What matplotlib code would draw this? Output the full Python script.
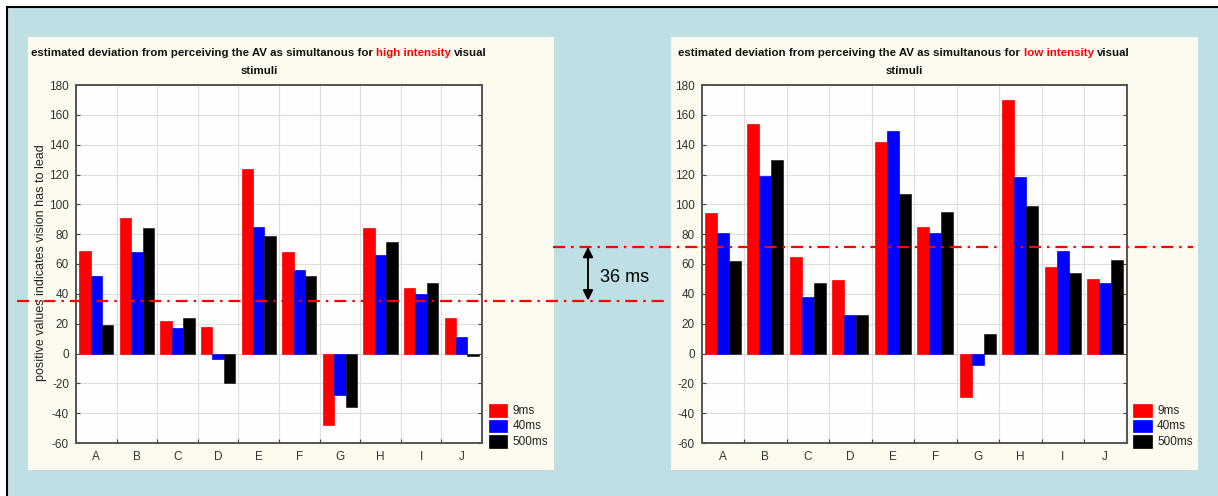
import numpy as np
import matplotlib
matplotlib.use("Agg")
import matplotlib.pyplot as plt
from matplotlib import font_manager as fm
from matplotlib.patches import Rectangle, FancyArrowPatch
from matplotlib.lines import Line2D
from matplotlib.transforms import blended_transform_factory

# ---- data -------------------------------------------------------------
categories = ["A", "B", "C", "D", "E", "F", "G", "H", "I", "J"]
series_names = ["9ms", "40ms", "500ms"]
series_colors = ["#ff0000", "#0000ff", "#000000"]

high_9ms = [69, 91, 22, 18, 124, 68, -48, 84, 44, 24]
high_40ms = [52, 68, 17, -4, 85, 56, -28, 66, 40, 11]
high_500ms = [19, 84, 24, -20, 79, 52, -36, 75, 47, -2]

low_9ms = [94, 154, 65, 49, 142, 85, -29, 170, 58, 50]
low_40ms = [81, 119, 38, 26, 149, 81, -8, 118, 69, 47]
low_500ms = [62, 130, 47, 26, 107, 95, 13, 99, 54, 63]

y_ticks = list(range(-60, 181, 20))
high_level = 35.5          # reference level, high intensity
gap_ms = 36                # shift between the two reference levels
low_level = high_level + gap_ms

# ---- fonts ------------------------------------------------------------
names = {f.name for f in fm.fontManager.ttflist}
narrow = "Liberation Sans Narrow" if "Liberation Sans Narrow" in names else "Liberation Sans"
plt.rcParams["font.family"] = [narrow, "Liberation Sans", "DejaVu Sans"]
plt.rcParams["axes.unicode_minus"] = False

W, H = 1218, 496
fig = plt.figure(figsize=(W / 100, H / 100), dpi=100, facecolor="white")


def fx(x):
    return x / W


def fy(y):
    return (H - y) / H


# outer frame and the two panels
fig.add_artist(Rectangle((fx(7), fy(H + 20)), fx(W + 30), (H + 20 - 6.5) / H,
                         transform=fig.transFigure, facecolor="#bedfe3",
                         edgecolor="black", lw=1.5, zorder=-3))
for x0, x1 in [(27.5, 553.6), (671, 1198.4)]:
    fig.add_artist(Rectangle((fx(x0), fy(470)), fx(x1 - x0), (470 - 37) / H,
                             transform=fig.transFigure, facecolor="#fdfbf0",
                             edgecolor="none", zorder=-2))

ax_high = fig.add_axes([fx(76), fy(443), fx(406), 358 / H])
ax_low = fig.add_axes([fx(701.6), fy(443), fx(424.9), 358 / H])

bar_w = 0.28
x = np.arange(len(categories))


def style_axes(ax, data):
    for k, (vals, col) in enumerate(zip(data, series_colors)):
        ax.bar(x + (k - 1) * bar_w, vals, width=bar_w, color=col,
               edgecolor="#222222" if col == "#000000" else col, lw=0.5, zorder=3)
    ax.set_xlim(-0.5, len(categories) - 0.5)
    ax.set_ylim(min(y_ticks), max(y_ticks))
    ax.set_yticks(y_ticks)
    ax.set_xticks(np.arange(-0.5, len(categories), 1))
    ax.set_xticklabels([])
    ax.set_xticks(x, minor=True)
    ax.set_xticklabels(categories, minor=True)
    ax.set_facecolor("#fefefe")
    ax.grid(True, which="major", color="#dedede", lw=0.8, zorder=0)
    ax.set_axisbelow(True)
    for sp in ax.spines.values():
        sp.set_color("#555555")
        sp.set_linewidth(1.4)
    ax.tick_params(axis="y", direction="in", left=True, right=True, length=3,
                   color="#444444", labelsize=8.5, labelcolor="#333333", pad=5)
    ax.tick_params(axis="x", which="major", direction="in", length=3,
                   color="#444444")
    ax.tick_params(axis="x", which="minor", length=0, labelsize=8.5,
                   labelcolor="#333333", pad=6)


style_axes(ax_high, [high_9ms, high_40ms, high_500ms])
style_axes(ax_low, [low_9ms, low_40ms, low_500ms])

fig.text(fx(41), fy(263), "positive values indicates vision has to lead",
         rotation=90, ha="center", va="center", fontsize=9, color="#222222")

# legends
for lx in [488.6, 1133]:
    for k, (name, col) in enumerate(zip(series_names, series_colors)):
        top = 404 + 15.6 * k
        fig.add_artist(Rectangle((fx(lx), fy(top + 12.7)), fx(18.5), 12.7 / H,
                                 transform=fig.transFigure, facecolor=col,
                                 edgecolor=col, lw=0.5))
        fig.text(fx(lx + 24), fy(top + 6.6), name, fontsize=8.5, va="center",
                 ha="left", color="#222222")

# titles with the highlighted intensity word
renderer = fig.canvas.get_renderer()
title_kw = dict(fontsize=8.25, fontweight="bold")


def text_width(s):
    t = fig.text(0, 0, s, **title_kw)
    w = t.get_window_extent(renderer).width
    t.remove()
    return w


def draw_title(cx, cy, word):
    parts = ["estimated deviation from perceiving the AV as simultanous for",
             word, "visual"]
    colors = ["#111111", "#ff0000", "#111111"]
    space = text_width("a a") - text_width("aa")
    widths = [text_width(p) for p in parts]
    total = sum(widths) + 2 * space
    left = cx - total / 2
    for p, c, w in zip(parts, colors, widths):
        fig.text(fx(left), fy(cy), p, color=c, ha="left", va="center", **title_kw)
        left += w + space
    fig.text(fx(cx), fy(cy + 18), "stimuli", color="#111111", ha="center",
             va="center", **title_kw)


draw_title(259, 53, "high intensity")
draw_title(904, 53, "low intensity")

# reference levels and the gap between them
blend = blended_transform_factory(fig.transFigure, ax_high.transData)
dash = (0, (5.4, 2.7, 1.1, 2.7))
fig.add_artist(Line2D([fx(17), fx(668)], [high_level, high_level], transform=blend,
                      color="#ff0000", lw=1.6, linestyle=dash, zorder=6))
fig.add_artist(Line2D([fx(553), fx(1193)], [low_level, low_level], transform=blend,
                      color="#ff0000", lw=1.6, linestyle=dash, zorder=6))
fig.add_artist(FancyArrowPatch((fx(588), high_level), (fx(588), low_level),
                               transform=blend, arrowstyle="<|-|>",
                               mutation_scale=15, color="black", lw=1.4,
                               shrinkA=0, shrinkB=0, zorder=6))
fig.text(fx(600), fy(277), f"{gap_ms} ms", fontsize=13, family=["Liberation Sans"],
         va="center", ha="left", color="black")

fig.savefig("out.png", dpi=100, facecolor="white")
